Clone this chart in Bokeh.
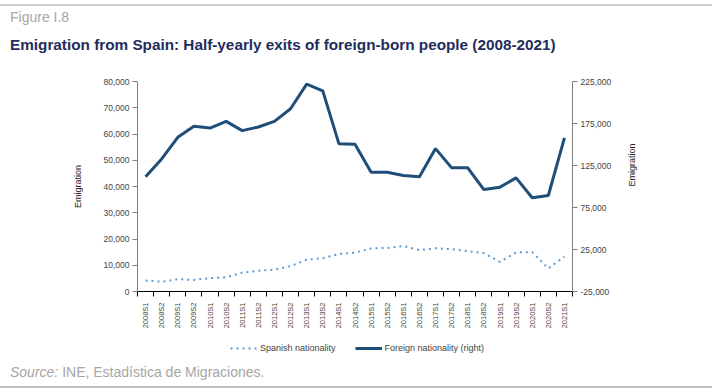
from bokeh.plotting import figure
from bokeh.models import (Range1d, LinearAxis, FixedTicker, NumeralTickFormatter,
                          Legend, LegendItem, Div)
from bokeh.layouts import column
from bokeh.embed import file_html
from bokeh.resources import INLINE

periods = ["2008S1", "2008S2", "2009S1", "2009S2", "2010S1", "2010S2", "2011S1", "2011S2",
           "2012S1", "2012S2", "2013S1", "2013S2", "2014S1", "2014S2", "2015S1", "2015S2",
           "2016S1", "2016S2", "2017S1", "2017S2", "2018S1", "2018S2", "2019S1", "2019S2",
           "2020S1", "2020S2", "2021S1"]
spanish = [4200, 3700, 4700, 4400, 5100, 5400, 7200, 7900, 8300, 9700, 12100, 12700, 14300,
           14800, 16400, 16600, 17300, 15800, 16500, 16100, 15400, 14600, 11300, 14900, 15000,
           8800, 13300]
foreign = [111500, 132800, 158500, 171600, 169600, 177500, 166500, 170800, 177500, 192600,
           221800, 213900, 151000, 150200, 117000, 117000, 113000, 111500, 145100, 122200,
           122200, 96400, 99200, 110300, 86600, 89300, 157800]
left_ticks = [0, 10000, 20000, 30000, 40000, 50000, 60000, 70000, 80000]
right_ticks = [-25000, 25000, 75000, 125000, 175000, 225000]
series_names = ["Spanish nationality", "Foreign nationality (right)"]

figure_label = "Figure I.8"
title_text = "Emigration from Spain: Half-yearly exits of foreign-born people (2008-2021)"
source_label = "Source:"
source_text = "INE, Estadística de Migraciones."

FONT = "Liberation Sans"
W = 712
SP_COLOR = "#5b9bd5"
FO_COLOR = "#1f4e79"
idx = list(range(len(periods)))

top = Div(width=W, height=72, margin=(0, 0, 0, 0), text=f"""
<div style="position:relative;width:{W}px;height:72px;font-family:'Liberation Sans',Arial,sans-serif;">
  <div style="position:absolute;left:0;top:4px;width:{W}px;height:2px;background:#cfcfcf;"></div>
  <div style="position:absolute;left:10px;top:9px;font-size:14px;line-height:16px;color:#a6a6a6;white-space:nowrap;">{figure_label}</div>
  <div style="position:absolute;left:10px;top:36px;font-size:15.3px;line-height:18px;font-weight:bold;color:#1f2d5c;white-space:nowrap;">{title_text}</div>
</div>""")

p = figure(width=W, height=263, output_backend="svg", toolbar_location=None,
           x_range=Range1d(-0.5, len(periods) - 0.5), y_range=Range1d(0, 80000),
           min_border_left=137, min_border_right=W - 572, min_border_top=9, min_border_bottom=44,
           x_axis_type=None, y_axis_type=None, margin=(0, 0, 0, 0))
p.outline_line_color = None
p.xgrid.visible = False
p.ygrid.visible = False
p.extra_y_ranges = {"right": Range1d(-25000, 225000)}

xaxis = LinearAxis(ticker=FixedTicker(ticks=idx, minor_ticks=[i - 0.5 for i in range(len(periods) + 1)]))
xaxis.major_label_overrides = {i: periods[i] for i in idx}
xaxis.major_label_orientation = 1.5708
xaxis.major_tick_out = 0
xaxis.major_tick_in = 0
xaxis.minor_tick_out = 5
xaxis.minor_tick_in = 0
xaxis.minor_tick_line_color = "black"
xaxis.axis_line_color = "black"
xaxis.major_label_text_font = FONT
xaxis.major_label_text_font_size = "7.5px"
xaxis.major_label_standoff = 6
p.add_layout(xaxis, "below")

yl = LinearAxis(ticker=FixedTicker(ticks=left_ticks), formatter=NumeralTickFormatter(format="0,0"))
yl.axis_label = "Emigration"
p.add_layout(yl, "left")

yr = LinearAxis(y_range_name="right", ticker=FixedTicker(ticks=right_ticks),
                formatter=NumeralTickFormatter(format="0,0"))
yr.axis_label = "Emigration"
yr.axis_label_orientation = 1.5708
p.add_layout(yr, "right")

for ax in (yl, yr):
    ax.axis_line_color = "#808080"
    ax.major_tick_line_color = "#808080"
    ax.major_tick_out = 5
    ax.major_tick_in = 0
    ax.minor_tick_out = 0
    ax.minor_tick_in = 0
    ax.major_label_text_font = FONT
    ax.major_label_text_font_size = "8.5px"
    ax.major_label_standoff = 3
    ax.axis_label_text_font = FONT
    ax.axis_label_text_font_size = "9px"
    ax.axis_label_text_font_style = "normal"
    ax.axis_label_text_color = "#222222"
    ax.axis_label_standoff = 18

p.line(idx, spanish, line_color=SP_COLOR, line_width=2, line_dash="2 4")
p.line(idx, foreign, y_range_name="right", line_color=FO_COLOR, line_width=3)

# legend strip (its frame is aligned with the chart's frame by the column layout)
lg = figure(width=W, height=25, output_backend="svg", toolbar_location=None,
            x_range=Range1d(10, 11), y_range=Range1d(10, 11),
            x_axis_type=None, y_axis_type=None, min_border=0, margin=(0, 0, 0, 0))
lg.outline_line_color = None
lg.xgrid.visible = False
lg.ygrid.visible = False
lg_sp = lg.line(idx[:2], spanish[:2], line_color=SP_COLOR, line_width=2, line_dash="2 4")
lg_fo = lg.line(idx[:2], foreign[:2], line_color=FO_COLOR, line_width=3)
legend = Legend(items=[LegendItem(label=series_names[0], renderers=[lg_sp]),
                       LegendItem(label=series_names[1], renderers=[lg_fo])],
                orientation="horizontal", location=(93, 6), padding=0, margin=0,
                spacing=19, glyph_width=27, glyph_height=12, label_standoff=3,
                border_line_alpha=0, background_fill_alpha=0,
                label_text_font=FONT, label_text_font_size="9px")
lg.add_layout(legend, "center")

bottom = Div(width=W, height=30, margin=(0, 0, 0, 0), text=f"""
<div style="position:relative;width:{W}px;height:30px;font-family:'Liberation Sans',Arial,sans-serif;">
  <div style="position:absolute;left:10px;top:4px;font-size:14px;line-height:16px;color:#a6a6a6;white-space:nowrap;"><i>{source_label}</i> {source_text}</div>
  <div style="position:absolute;left:0;top:26px;width:{W}px;height:2px;background:#bfbfbf;"></div>
</div>""")

layout = column(top, p, lg, bottom, spacing=0, margin=(0, 0, 0, 0))
open("out.html", "w").write(file_html(layout, INLINE))
